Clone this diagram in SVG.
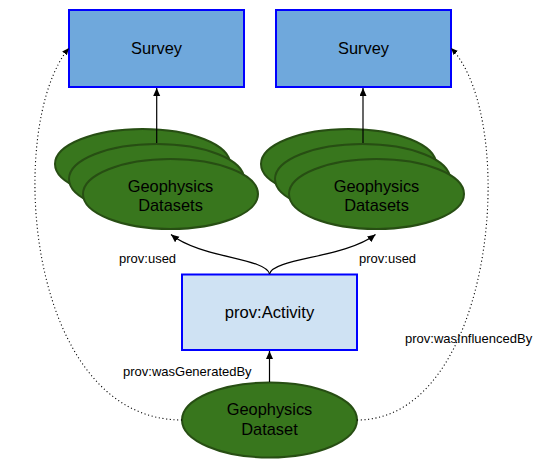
<svg xmlns="http://www.w3.org/2000/svg" width="541" height="461" viewBox="0 0 541 461">
<defs>
<style>
.survey{fill:#6fa8dc;stroke:#0000ff;stroke-width:2}
.activity{fill:#cfe2f3;stroke:#0000ff;stroke-width:2}
.ds{fill:#38761d;stroke:#274e13;stroke-width:2}
.t{font-family:"Liberation Sans",Arial,sans-serif;font-size:16.4px;fill:#000;text-anchor:middle}
.lbl{font-family:"Liberation Sans",Arial,sans-serif;font-size:13px;fill:#000}
.edge{fill:none;stroke:#000;stroke-width:1.2}
.dot{fill:none;stroke:#000;stroke-width:1.1;stroke-dasharray:1.1,2.6}
</style>
<marker id="ah" markerWidth="9" markerHeight="8" refX="8" refY="3.5" orient="auto" markerUnits="userSpaceOnUse">
<path d="M0,0 L8,3.5 L0,7 z" fill="#000"/>
</marker>
<marker id="ahs" markerWidth="8" markerHeight="7" refX="7" refY="3" orient="auto" markerUnits="userSpaceOnUse">
<path d="M0,0 L7,3 L0,6 z" fill="#000"/>
</marker>
</defs>

<g id="survey-left">
<rect class="survey" x="69" y="10" width="175" height="77"/>
<text class="t" x="156.5" y="54">Survey</text>
</g>
<g id="survey-right">
<rect class="survey" x="276" y="10" width="175" height="77"/>
<text class="t" x="363.5" y="54">Survey</text>
</g>

<g id="datasets-left">
<ellipse class="ds" cx="142.5" cy="164" rx="87.5" ry="35"/>
<ellipse class="ds" cx="156.5" cy="179" rx="87.5" ry="35"/>
<ellipse class="ds" cx="170.5" cy="194" rx="87.5" ry="35"/>
<text class="t" x="170.5" y="192">Geophysics</text>
<text class="t" x="170.5" y="211">Datasets</text>
</g>
<g id="datasets-right">
<ellipse class="ds" cx="348.5" cy="164" rx="87.5" ry="35"/>
<ellipse class="ds" cx="362.5" cy="179" rx="87.5" ry="35"/>
<ellipse class="ds" cx="376.5" cy="194" rx="87.5" ry="35"/>
<text class="t" x="376.5" y="192">Geophysics</text>
<text class="t" x="376.5" y="211">Datasets</text>
</g>

<g id="activity">
<rect class="activity" x="182" y="274.5" width="175" height="75.5"/>
<text class="t" x="269.5" y="318" style="font-size:16.6px">prov:Activity</text>
</g>

<g id="dataset">
<ellipse class="ds" cx="269.5" cy="420" rx="87.5" ry="37.5"/>
<text class="t" x="269.5" y="415">Geophysics</text>
<text class="t" x="269.5" y="435">Dataset</text>
</g>

<g id="connectors">
<line class="edge" x1="156.7" y1="143" x2="156.7" y2="88" marker-end="url(#ah)"/>
<line class="edge" x1="363" y1="143" x2="363" y2="88" marker-end="url(#ah)"/>
<line class="edge" x1="269.5" y1="382" x2="269.5" y2="351" marker-end="url(#ah)"/>
<path class="edge" d="M269.5,274 C266,258 200,258 171,234.5" marker-end="url(#ah)"/>
<path class="edge" d="M269.5,274 C273,258 345,258 375.5,234.5" marker-end="url(#ah)"/>
<path class="dot" d="M182,420 C25,420 5,125 69,48" marker-end="url(#ahs)"/>
<path class="dot" d="M357,420 C495,420 520,120 451,48" marker-end="url(#ahs)"/>
<text class="lbl" x="119" y="263">prov:used</text>
<text class="lbl" x="359" y="263">prov:used</text>
<text class="lbl" x="123" y="376">prov:wasGeneratedBy</text>
<text class="lbl" x="405" y="343">prov:wasInfluencedBy</text>
</g>
</svg>
